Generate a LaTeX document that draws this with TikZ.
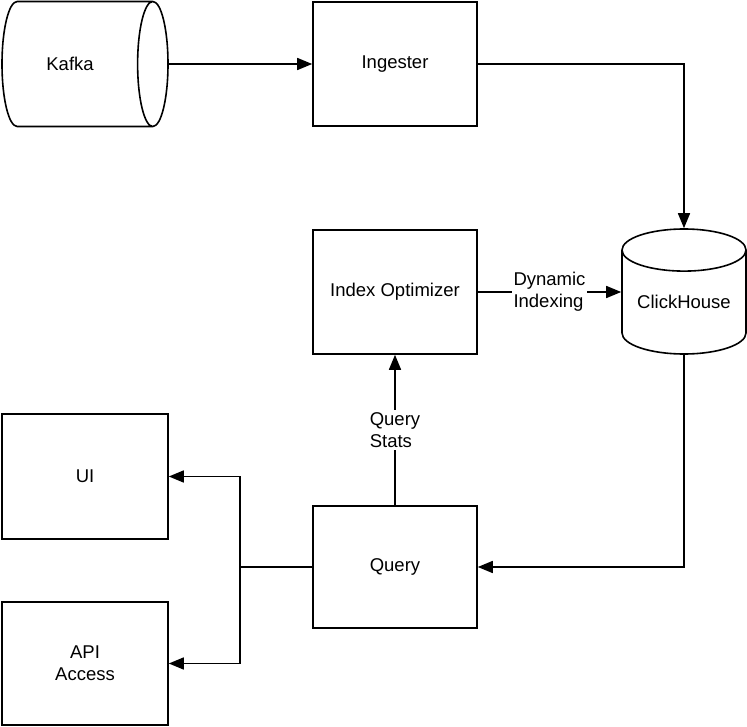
\documentclass[tikz,border=0pt]{standalone}
\usepackage{fontspec}
\setmainfont{Liberation Sans}
\usetikzlibrary{shapes.geometric,arrows.meta}

\begin{document}
\begin{tikzpicture}[x=1pt, y=-1pt, line width=1.6pt,
	font=\fontsize{18.5}{22}\selectfont,
	box/.style={draw, rectangle, minimum width=164pt, minimum height=124pt},
	store/.style={draw, cylinder, align=center, anchor=shape center},
	lbl/.style={fill=white, align=left, inner sep=2pt},
	>={Triangle[length=15pt, width=12pt]}]
\useasboundingbox (0,0) rectangle (747,727);
\node[store, minimum width=125pt, minimum height=166pt, aspect=1.5] (kafka) at (85,64) {Kafka\hspace*{9pt}};
\node[box] (ingester) at (395,64) {Ingester};
\node[box] (idxopt) at (395,292) {Index Optimizer};
\node[store, shape border rotate=90, minimum width=124pt, minimum height=125pt, aspect=0.42] (ch) at (684,291.5) {\raisebox{-3pt}[0pt][0pt]{ClickHouse}};
\node[box, minimum height=122pt] (query) at (395,567) {Query};
\node[box, minimum width=166pt, minimum height=125pt] (ui) at (85,476.5) {UI};
\node[box, minimum width=166pt, minimum height=123pt, align=center] (api) at (85,663.5) {API\\Access};
\coordinate (split) at (240,567);

\draw[->] (kafka.east |- ingester.west) -- (ingester.west);
\draw[->] (ingester.east) -| (ch.north);
\draw[->] (idxopt.east) -- node[lbl] {Dynamic\\Indexing} (idxopt.east -| ch.west);
\draw[->] (ch.south) |- (query.east);
\draw[->] (query.north) -- node[lbl] {Query\\Stats} (idxopt.south);
\draw (query.west) -- (split);
\draw[->] (split) |- (ui.east);
\draw[->] (split) |- (api.east);
\end{tikzpicture}
\end{document}
